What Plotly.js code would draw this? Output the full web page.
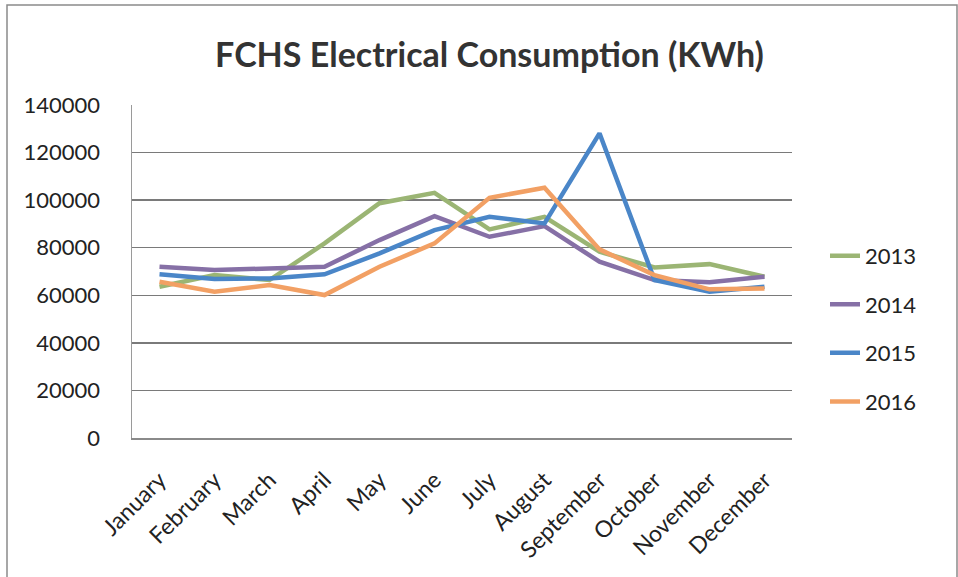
<!DOCTYPE html>
<html>
<head>
<meta charset="utf-8">
<script src="https://cdn.plot.ly/plotly-3.0.1.min.js"></script>
<style>
  html, body { margin: 0; padding: 0; background: #ffffff; }
  #chart { width: 958px; height: 577px; }
</style>
</head>
<body>
<div id="chart"></div>
<script>
const months = ["January","February","March","April","May","June","July","August","September","October","November","December"];
const y2013 = [63600, 68500, 66400, 81800, 98700, 103100, 87700, 93000, 78300, 71700, 73100, 67800];
const y2014 = [72000, 70600, 71300, 72000, 83200, 93300, 84600, 89100, 74100, 66400, 65500, 67800];
const y2015 = [68800, 66800, 67100, 68800, 77600, 87400, 93000, 90200, 128100, 66400, 61500, 63600];
const y2016 = [65700, 61500, 64300, 60100, 72000, 81800, 101000, 105200, 79300, 68500, 62500, 62900];
const seriesNames = ["2013", "2014", "2015", "2016"];
const seriesData = [y2013, y2014, y2015, y2016];
const colors = ["#9bb574", "#8670a6", "#4a86c8", "#f2a064"];

const traces = seriesData.map((d, i) => ({
  type: "scatter",
  mode: "lines",
  x: months,
  y: d,
  name: seriesNames[i],
  legendgroup: "g" + i,
  line: { color: colors[i], width: 4.5 }
}));

const layout = {
  width: 958,
  height: 577,
  paper_bgcolor: "#ffffff",
  plot_bgcolor: "#ffffff",
  margin: { l: 132, r: 166, t: 105, b: 139 },
  font: { family: "Lato, 'Open Sans', sans-serif", color: "#222222" },
  title: {
    text: "<b>FCHS Electrical Consumption (KWh)</b>",
    font: { size: 34, color: "#333333", family: "Lato, 'Open Sans', sans-serif" },
    x: 0.511, xanchor: "center",
    y: 0.905, yanchor: "middle"
  },
  xaxis: {
    type: "category",
    range: [-0.5, 11.5],
    tickangle: -45,
    tickfont: { size: 23, color: "#222222" },
    showgrid: false,
    showline: true,
    linecolor: "#8a8a8a",
    linewidth: 1.5,
    ticks: "",
    ticklabelstandoff: 18,
    zeroline: false
  },
  yaxis: {
    range: [0, 140000],
    dtick: 20000,
    tickformat: "d",
    tickfont: { size: 22, color: "#222222" },
    showgrid: true,
    gridcolor: "#7a7a7a",
    gridwidth: 1.5,
    showline: true,
    linecolor: "#9a9a9a",
    linewidth: 1.5,
    zeroline: false,
    ticks: "",
    ticklabelstandoff: 26
  },
  legend: {
    x: 1.05, xanchor: "left",
    y: 0.61, yanchor: "top",
    traceorder: "grouped",
    tracegroupgap: 17,
    font: { size: 22, color: "#222222" },
    bgcolor: "rgba(0,0,0,0)"
  },
  showlegend: true,
  shapes: [{
    type: "rect", xref: "paper", yref: "paper",
    x0: (7 - 132) / 660, x1: (957 - 132) / 660,
    y0: (438 - 580) / 333, y1: (438 - 5) / 333,
    line: { color: "#8a8a8a", width: 1.5 },
    fillcolor: "rgba(0,0,0,0)",
    layer: "below"
  }]
};

Plotly.newPlot("chart", traces, layout, { displayModeBar: false, staticPlot: true });
</script>
</body>
</html>
